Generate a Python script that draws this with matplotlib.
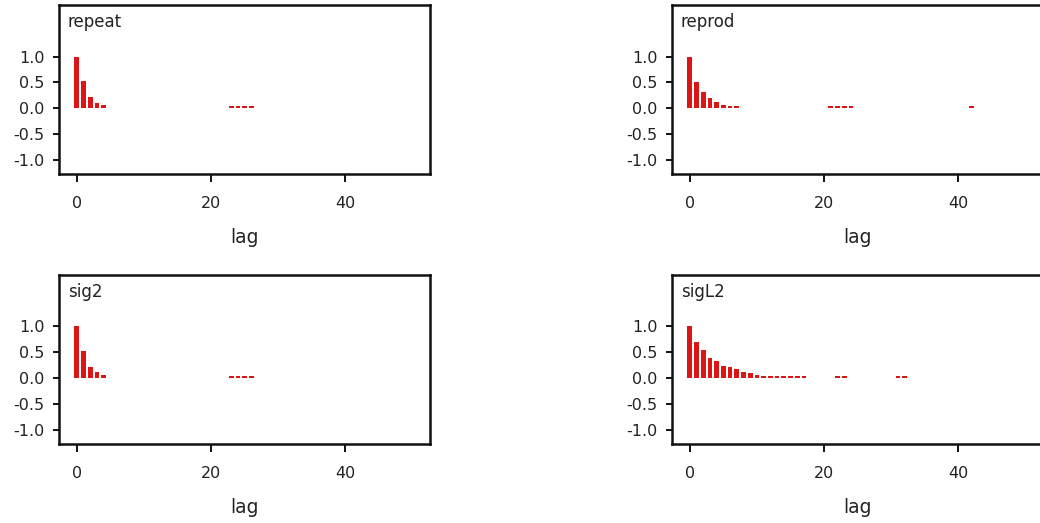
import numpy as np
import matplotlib.pyplot as plt

# autocorrelation values
names = ['repeat', 'reprod', 'sig2', 'sigL2']

lags_repeat = [0, 1, 2, 3, 4, 23, 24, 25, 26]
acf_repeat = [1.0, 0.53, 0.22, 0.11, 0.06, 0.04, 0.04, 0.04, 0.04]

lags_reprod = [0, 1, 2, 3, 4, 5, 6, 7, 21, 22, 23, 24, 42]
acf_reprod = [1.0, 0.5, 0.32, 0.2, 0.12, 0.07, 0.05, 0.05, 0.04, 0.04, 0.04, 0.04, 0.04]

lags_sig2 = [0, 1, 2, 3, 4, 23, 24, 25, 26]
acf_sig2 = [1.0, 0.53, 0.22, 0.11, 0.06, 0.04, 0.04, 0.04, 0.04]

lags_sigL2 = [0, 1, 2, 3, 4, 5, 6, 7, 8, 9, 10, 11, 12, 13, 14, 15, 16, 17, 22, 23, 31, 32]
acf_sigL2 = [1.0, 0.7, 0.55, 0.38, 0.33, 0.23, 0.21, 0.17, 0.12, 0.09, 0.06, 0.04,
             0.04, 0.04, 0.04, 0.04, 0.04, 0.04, 0.04, 0.04, 0.04, 0.04]

yticks = [-1.0, -0.5, 0.0, 0.5, 1.0]
ytick_labels = ['-1.0', '-0.5', '0.0', '0.5', '1.0']
xticks = [0, 20, 40]
xtick_labels = ['0', '20', '40']

lags = [lags_repeat, lags_reprod, lags_sig2, lags_sigL2]
acfs = [acf_repeat, acf_reprod, acf_sig2, acf_sigL2]

W, H = 1040, 523
# axes boxes in pixels: left, top, width, height
boxes = [(58.7, 5, 371.3, 168.7),
         (671.7, 5, 371.3, 168.7),
         (58.7, 274.7, 371.3, 169),
         (671.7, 274.7, 371.3, 169)]

txt = '#222222'
bar_col = '#dc1414'

fig = plt.figure(figsize=(W / 100, H / 100), dpi=100)

for name, lg, ac, b in zip(names, lags, acfs, boxes):
    l, t, w, h = b
    ax = fig.add_axes([l / W, (H - t - h) / H, w / W, h / H])
    ax.bar(lg, ac, width=0.7, color=bar_col, linewidth=0)
    ax.set_xlim(-2.7, 52.6)
    ax.set_ylim(-1.27, 2.0)
    ax.set_xticks(xticks)
    ax.set_xticklabels(xtick_labels)
    ax.set_yticks(yticks)
    ax.set_yticklabels(ytick_labels)
    for s in ax.spines.values():
        s.set_linewidth(1.8)
        s.set_color('#111111')
    ax.tick_params(axis='y', direction='out', length=4, width=1.4, pad=6,
                   labelsize=11.5, colors='#111111', labelcolor=txt)
    ax.tick_params(axis='x', direction='out', length=6, width=1.4, pad=10,
                   labelsize=11.5, colors='#111111', labelcolor=txt)
    ax.set_xlabel('lag', fontsize=13.5, color=txt, labelpad=12)
    ax.text(0.025, 0.95, name, transform=ax.transAxes, ha='left', va='top',
            fontsize=12, color=txt)

fig.savefig('out.png', dpi=100)
